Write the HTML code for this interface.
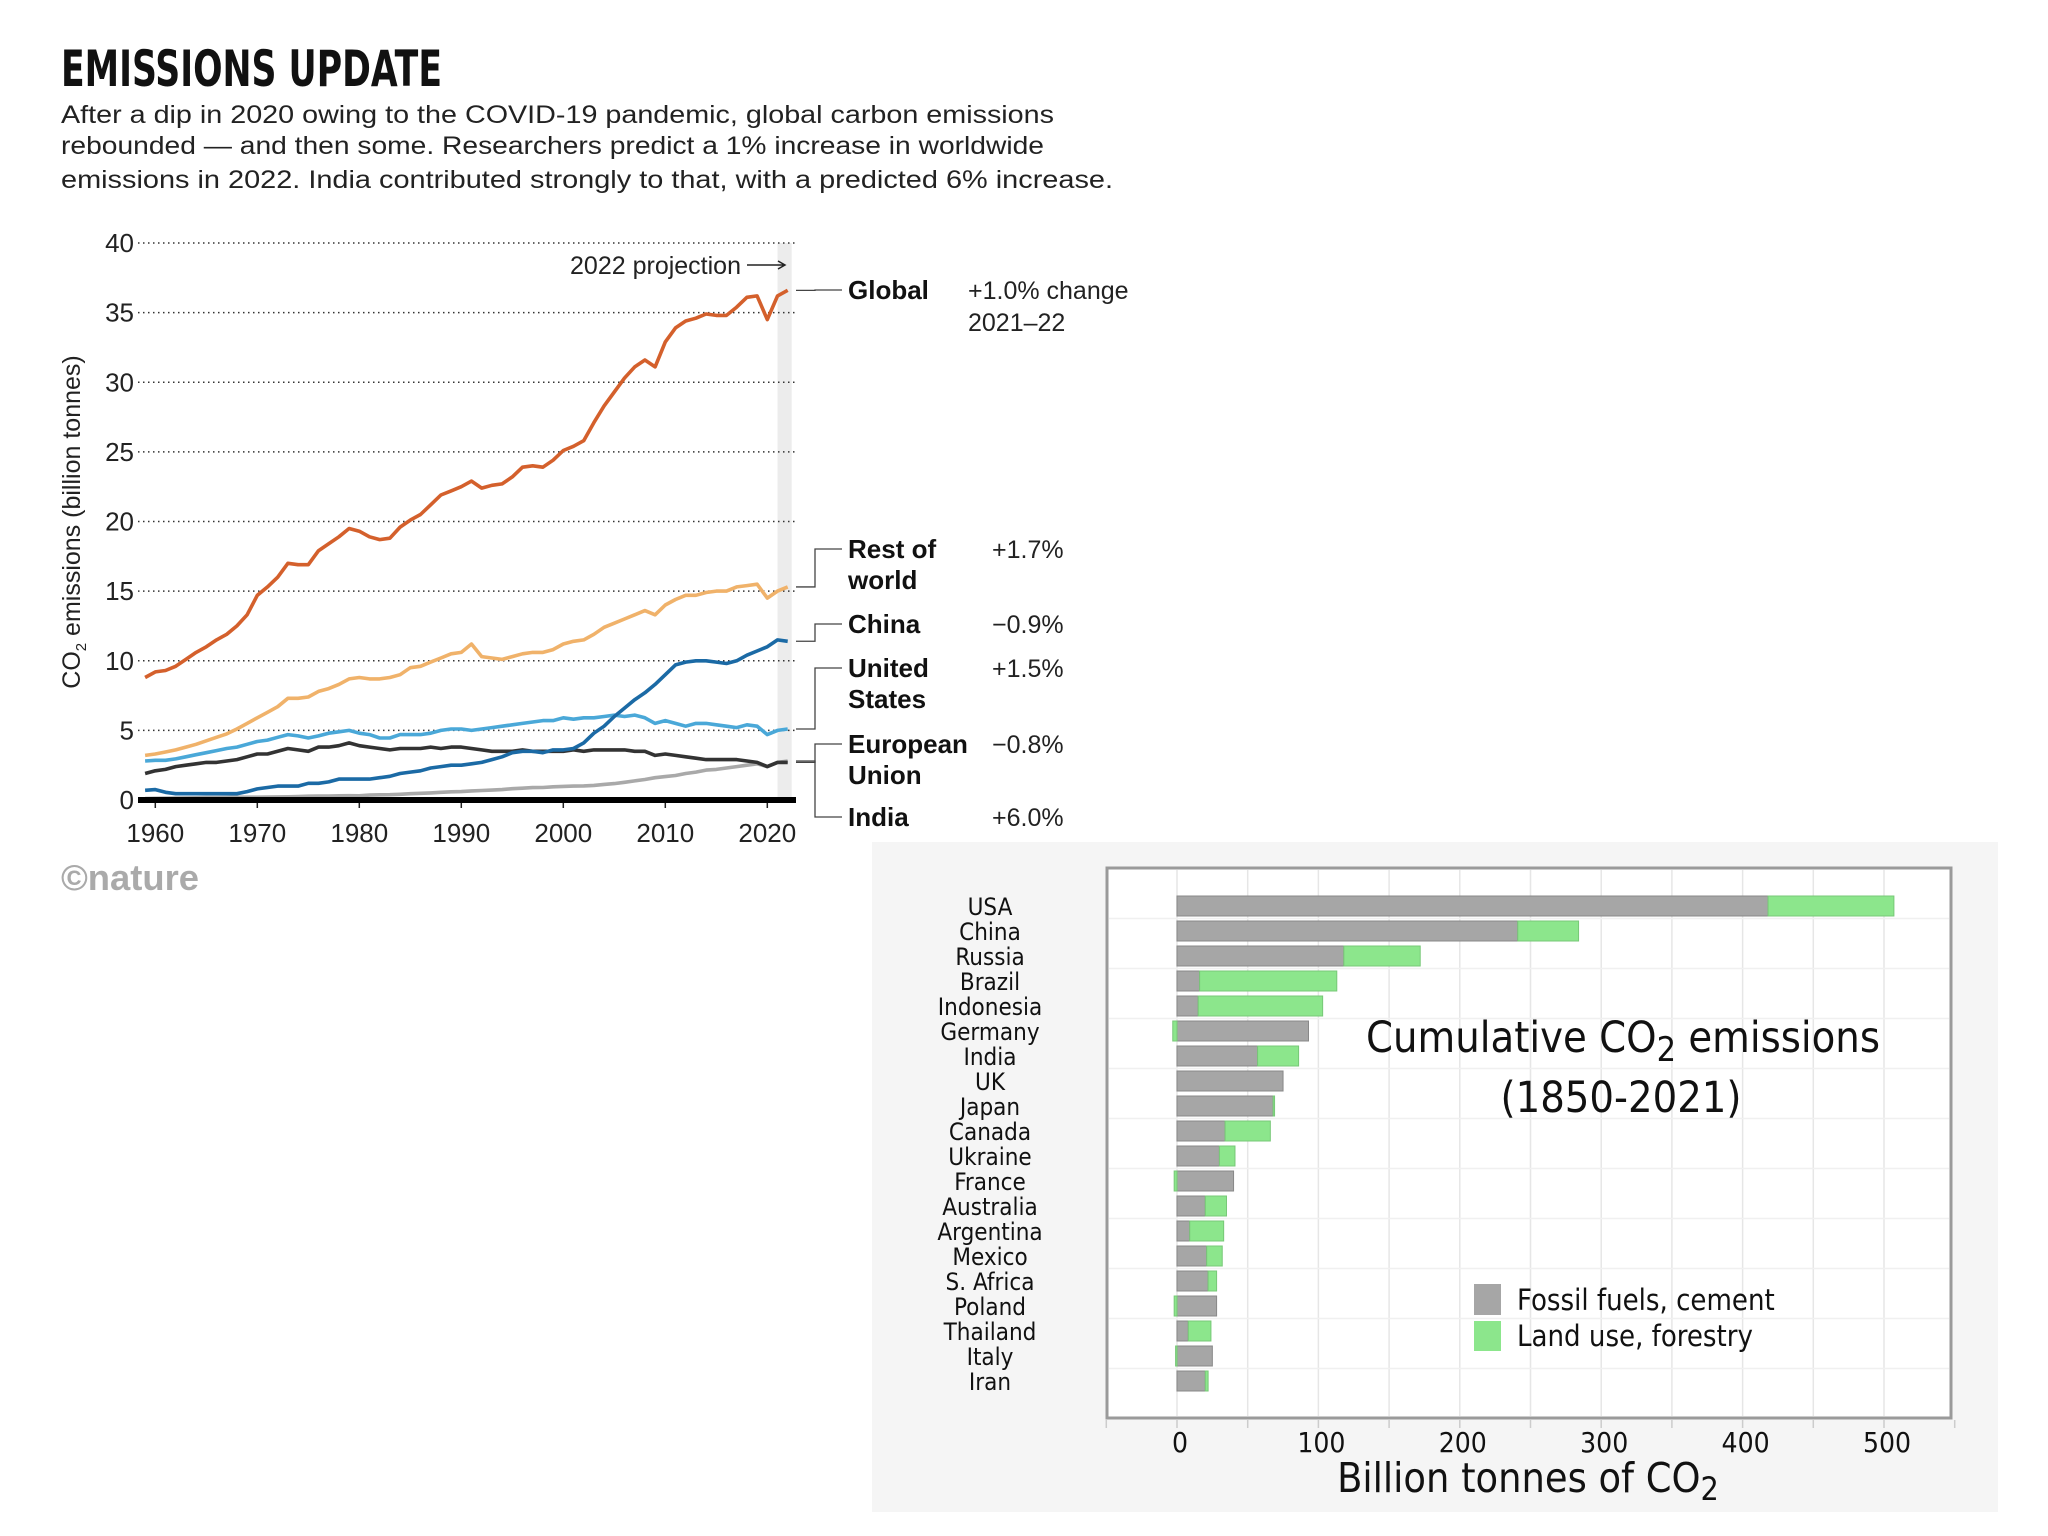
<!DOCTYPE html>
<html><head><meta charset="utf-8"><style>
html,body{margin:0;padding:0;background:#fff;}
svg{display:block;}
</style></head><body>
<svg id="root" width="2048" height="1536" viewBox="0 0 2048 1536" xmlns="http://www.w3.org/2000/svg">
<rect width="2048" height="1536" fill="#fff"/>
<text x="61" y="86" font-family="'Liberation Sans Narrow','DejaVu Sans Condensed','Liberation Sans',sans-serif" font-weight="bold" font-size="50" textLength="381" lengthAdjust="spacingAndGlyphs" fill="#111">EMISSIONS UPDATE</text>
<g font-family="'Liberation Sans',sans-serif" font-size="25" fill="#222">
<text x="61" y="123" textLength="993" lengthAdjust="spacingAndGlyphs">After a dip in 2020 owing to the COVID-19 pandemic, global carbon emissions</text>
<text x="61" y="154" textLength="983" lengthAdjust="spacingAndGlyphs">rebounded — and then some. Researchers predict a 1% increase in worldwide</text>
<text x="61" y="188" textLength="1052" lengthAdjust="spacingAndGlyphs">emissions in 2022. India contributed strongly to that, with a predicted 6% increase.</text>
</g>
<g id="linechart"></g>
<text x="61" y="890" font-family="'Liberation Sans Narrow','Liberation Sans',sans-serif" font-weight="bold" font-size="36" textLength="138" lengthAdjust="spacingAndGlyphs" fill="#aaa">©nature</text>
<rect x="872" y="842" width="1126" height="670" fill="#f5f5f5"/>
<g id="barchart"></g>
</svg>
<script>
const NS='http://www.w3.org/2000/svg';
const years=[1959,1960,1961,1962,1963,1964,1965,1966,1967,1968,1969,1970,1971,1972,1973,1974,1975,1976,1977,1978,1979,1980,1981,1982,1983,1984,1985,1986,1987,1988,1989,1990,1991,1992,1993,1994,1995,1996,1997,1998,1999,2000,2001,2002,2003,2004,2005,2006,2007,2008,2009,2010,2011,2012,2013,2014,2015,2016,2017,2018,2019,2020,2021,2022];
const globalVals=[8.8,9.2,9.3,9.6,10.1,10.6,11.0,11.5,11.9,12.5,13.3,14.7,15.3,16.0,17.0,16.9,16.9,17.9,18.4,18.9,19.5,19.3,18.9,18.7,18.8,19.6,20.1,20.5,21.2,21.9,22.2,22.5,22.9,22.4,22.6,22.7,23.2,23.9,24.0,23.9,24.4,25.1,25.4,25.8,27.1,28.3,29.3,30.3,31.1,31.6,31.1,32.9,33.9,34.4,34.6,34.9,34.8,34.8,35.4,36.1,36.2,34.5,36.2,36.6];
const restVals=[3.2,3.3,3.45,3.6,3.8,4.0,4.25,4.5,4.75,5.1,5.5,5.9,6.3,6.7,7.3,7.3,7.4,7.8,8.0,8.3,8.7,8.8,8.7,8.7,8.8,9.0,9.5,9.6,9.9,10.2,10.5,10.6,11.2,10.3,10.2,10.1,10.3,10.5,10.6,10.6,10.8,11.2,11.4,11.5,11.9,12.4,12.7,13.0,13.3,13.6,13.3,14.0,14.4,14.7,14.7,14.9,15.0,15.0,15.3,15.4,15.5,14.5,15.0,15.3];
const chinaVals=[0.7,0.75,0.55,0.45,0.45,0.45,0.45,0.45,0.45,0.45,0.6,0.8,0.9,1.0,1.0,1.0,1.2,1.2,1.3,1.5,1.5,1.5,1.5,1.6,1.7,1.9,2.0,2.1,2.3,2.4,2.5,2.5,2.6,2.7,2.9,3.1,3.4,3.5,3.5,3.4,3.6,3.6,3.7,4.1,4.8,5.3,6.0,6.6,7.2,7.7,8.3,9.0,9.7,9.9,10.0,10.0,9.9,9.8,10.0,10.4,10.7,11.0,11.5,11.4];
const usVals=[2.8,2.85,2.85,2.95,3.1,3.25,3.4,3.55,3.7,3.8,4.0,4.2,4.3,4.5,4.7,4.6,4.45,4.6,4.8,4.9,5.0,4.8,4.7,4.45,4.45,4.7,4.7,4.7,4.8,5.0,5.1,5.1,5.0,5.1,5.2,5.3,5.4,5.5,5.6,5.7,5.7,5.9,5.8,5.9,5.9,6.0,6.1,6.0,6.1,5.9,5.5,5.7,5.5,5.3,5.5,5.5,5.4,5.3,5.2,5.4,5.3,4.7,5.0,5.1];
const euVals=[1.9,2.1,2.2,2.4,2.5,2.6,2.7,2.7,2.8,2.9,3.1,3.3,3.3,3.5,3.7,3.6,3.5,3.8,3.8,3.9,4.1,3.9,3.8,3.7,3.6,3.7,3.7,3.7,3.8,3.7,3.8,3.8,3.7,3.6,3.5,3.5,3.5,3.6,3.5,3.5,3.5,3.5,3.6,3.5,3.6,3.6,3.6,3.6,3.5,3.5,3.2,3.3,3.2,3.1,3.0,2.9,2.9,2.9,2.9,2.8,2.7,2.4,2.7,2.7];
const indiaVals=[0.1,0.12,0.13,0.14,0.15,0.16,0.17,0.18,0.19,0.2,0.2,0.2,0.21,0.22,0.23,0.25,0.27,0.28,0.29,0.3,0.31,0.3,0.35,0.37,0.38,0.41,0.45,0.48,0.51,0.55,0.59,0.6,0.65,0.68,0.71,0.75,0.81,0.85,0.89,0.9,0.95,0.98,1.0,1.01,1.05,1.12,1.18,1.27,1.37,1.47,1.6,1.68,1.76,1.9,2.0,2.15,2.2,2.3,2.4,2.5,2.6,2.4,2.7,2.8];
const yTicks=[0,5,10,15,20,25,30,35,40];
const xTicks=[1960,1970,1980,1990,2000,2010,2020];

const countries=['USA','China','Russia','Brazil','Indonesia','Germany','India','UK','Japan','Canada','Ukraine','France','Australia','Argentina','Mexico','S. Africa','Poland','Thailand','Italy','Iran'];
const fossilVals=[418,241,118,16,15,93,57,75,68,34,30,40,20,9,21,22,28,8,25,20];
const landVals=[89,43,54,97,88,-3,29,0,1,32,11,-2,15,24,11,6,-2,16,-1,2];
const barTicks=[0,100,200,300,400,500];

function mk(tag,attrs,parent,text){const e=document.createElementNS(NS,tag);for(const k in attrs)e.setAttribute(k,attrs[k]);if(text!==undefined)e.textContent=text;parent.appendChild(e);return e;}

// ---- line chart ----
const L=document.getElementById('linechart');
const xs=y=>155.3+(y-1960)*10.2;
const ys=v=>800-v*13.925;
mk('rect',{x:xs(2021),y:ys(40),width:xs(2022)-xs(2021)+4,height:ys(0)-ys(40),fill:'#ececec'},L);
yTicks.forEach(t=>{
  if(t>0){const g=mk('line',{x1:138,x2:796,y1:ys(t),y2:ys(t),stroke:'#333','stroke-width':1.6,'stroke-dasharray':'1.5 3.5'},L);
  
  }
  const tx=mk('text',{x:134,y:ys(t)+9,'text-anchor':'end','font-family':"'Liberation Sans',sans-serif",'font-size':26,fill:'#222'},L,String(t));
  
  
});
xTicks.forEach(t=>{
  const tx=mk('text',{x:xs(t),y:842,'text-anchor':'middle','font-family':"'Liberation Sans',sans-serif",'font-size':26,fill:'#222'},L,String(t));
  
  
  const tk=mk('line',{x1:xs(t),x2:xs(t),y1:800,y2:808,stroke:'#222','stroke-width':1.5},L);
  
  
});
const at=mk('text',{transform:'translate(80,522) rotate(-90)','text-anchor':'middle','font-family':"'Liberation Sans',sans-serif",'font-size':25,fill:'#222'},L);


at.innerHTML='CO<tspan font-size="15" dy="6">2</tspan><tspan dy="-6"> emissions (billion tonnes)</tspan>';

const series=[['india-line',indiaVals,'#a9a9a9'],['eu-line',euVals,'#333333'],['us-line',usVals,'#4aa8d8'],['china-line',chinaVals,'#1b6aa5'],['rest-of-world-line',restVals,'#f0b26a'],['global-line',globalVals,'#d4602c']];
series.forEach(s=>{
  const d=years.map((y,i)=>(i?'L':'M')+xs(y).toFixed(1)+' '+ys(s[1][i]).toFixed(1)).join(' ');
  const p=mk('path',{d:d,fill:'none',stroke:s[2],'stroke-width':3.6,'stroke-linejoin':'round'},L);
  
  
});
const base=mk('line',{x1:138,x2:796,y1:800,y2:800,stroke:'#000','stroke-width':6},L);


const pj=mk('text',{x:741,y:274,'text-anchor':'end','font-family':"'Liberation Sans',sans-serif",'font-size':25,fill:'#222'},L,'2022 projection');


mk('path',{d:'M747 265 L784 265 M778 261 L785 265 L778 269',stroke:'#222','stroke-width':1.5,fill:'none'},L);
const labs=[['Global',299,null,globalVals,'+1.0% change','2021–22'],['Rest of',558,'world',restVals,'+1.7%',null],['China',633,null,chinaVals,'−0.9%',null],['United',677,'States',usVals,'+1.5%',null],['European',753,'Union',euVals,'−0.8%',null],['India',826,null,indiaVals,'+6.0%',null]];
labs.forEach(l=>{
  const last=l[3][l[3].length-1];
  const yEnd=ys(last);
  const yl=l[1]-9;
  const c=mk('path',{d:`M796 ${yEnd} L815 ${yEnd} L815 ${yl} L842 ${yl}`,fill:'none',stroke:'#444','stroke-width':1.3},L);
  
  
  const t=mk('text',{x:848,y:l[1],'font-family':"'Liberation Sans',sans-serif",'font-weight':'bold','font-size':26,fill:'#111'},L,l[0]);
  
  
  if(l[2]){const t2=mk('text',{x:848,y:l[1]+31,'font-family':"'Liberation Sans',sans-serif",'font-weight':'bold','font-size':26,fill:'#111'},L,l[2]);
    
    }
  const px=l[0]==='Global'?968:992;
  const v=mk('text',{x:px,y:l[1],'font-family':"'Liberation Sans',sans-serif",'font-size':25,fill:'#222'},L,l[4]);
  
  
  if(l[5]){const v2=mk('text',{x:px,y:l[1]+32,'font-family':"'Liberation Sans',sans-serif",'font-size':25,fill:'#222'},L,l[5]);
    
    }
});

// ---- bar chart ----
const B=document.getElementById('barchart');
const bx=v=>1177+v*1.414;
const rowY=i=>906+i*25;
const F="'DejaVu Sans Condensed','DejaVu Sans',sans-serif";
mk('rect',{x:1107,y:868,width:844,height:550,fill:'#fff',stroke:'#9a9a9a','stroke-width':3},B);
for(let v=-50;v<=550;v+=50){
  if(v>-50&&v<550){const g=mk('line',{x1:bx(v),x2:bx(v),y1:870,y2:1416,stroke:'#e6e6e6','stroke-width':1.5},B);
  
  }
  const tk=mk('line',{x1:bx(v),x2:bx(v),y1:1420,y2:1428,stroke:'#ccc','stroke-width':1.5},B);
  
  
}
for(let k=0;k<10;k++){mk('line',{x1:1109,x2:1949,y1:906+12.5+50*k,y2:906+12.5+50*k,stroke:'#f0f0f0','stroke-width':1.5},B);}
countries.forEach((c,i)=>{
  const y=rowY(i);
  const t=mk('text',{x:990,y:y+9,'text-anchor':'middle','font-family':F,'font-size':24,fill:'#111'},B,c);
  
  
  const f=fossilVals[i],l=landVals[i];
  const r=mk('rect',{x:bx(0),y:y-10,width:bx(f)-bx(0),height:20,fill:'#a6a6a6',stroke:'#888','stroke-width':1},B);
  
  
  if(l!==0){
    const x0=l>0?bx(f):bx(l);
    const w=l>0?bx(f+l)-bx(f):bx(0)-bx(l);
    const g=mk('rect',{x:x0,y:y-10,width:w,height:20,fill:'#8ce68c',stroke:'#77c877','stroke-width':1},B);
    
    
  }
});
barTicks.forEach(v=>{
  const t=mk('text',{x:bx(v)+3,y:1452,'text-anchor':'middle','font-family':F,'font-size':28,fill:'#111'},B,String(v));
  
  
});
const xt=mk('text',{x:1528,y:1492,'text-anchor':'middle','font-family':F,'font-size':41,fill:'#111'},B);


xt.innerHTML='Billion tonnes of CO<tspan font-size="32" dy="8">2</tspan>';
const bt=mk('text',{x:1623,y:1052,'text-anchor':'middle','font-family':F,'font-size':43,fill:'#111'},B);


bt.innerHTML='Cumulative CO<tspan font-size="34" dy="9">2</tspan><tspan dy="-9"> emissions</tspan>';
const bt2=mk('text',{x:1621,y:1112,'text-anchor':'middle','font-family':F,'font-size':43,fill:'#111'},B,'(1850-2021)');


const lg1=mk('rect',{x:1474,y:1284,width:27,height:31,fill:'#a6a6a6'},B);


const lg2=mk('rect',{x:1474,y:1321,width:27,height:30,fill:'#8ce68c'},B);


const lt1=mk('text',{x:1517,y:1310,'font-family':F,'font-size':29,fill:'#111'},B,'Fossil fuels, cement');


const lt2=mk('text',{x:1517,y:1346,'font-family':F,'font-size':29,fill:'#111'},B,'Land use, forestry');


</script>
</body></html>
